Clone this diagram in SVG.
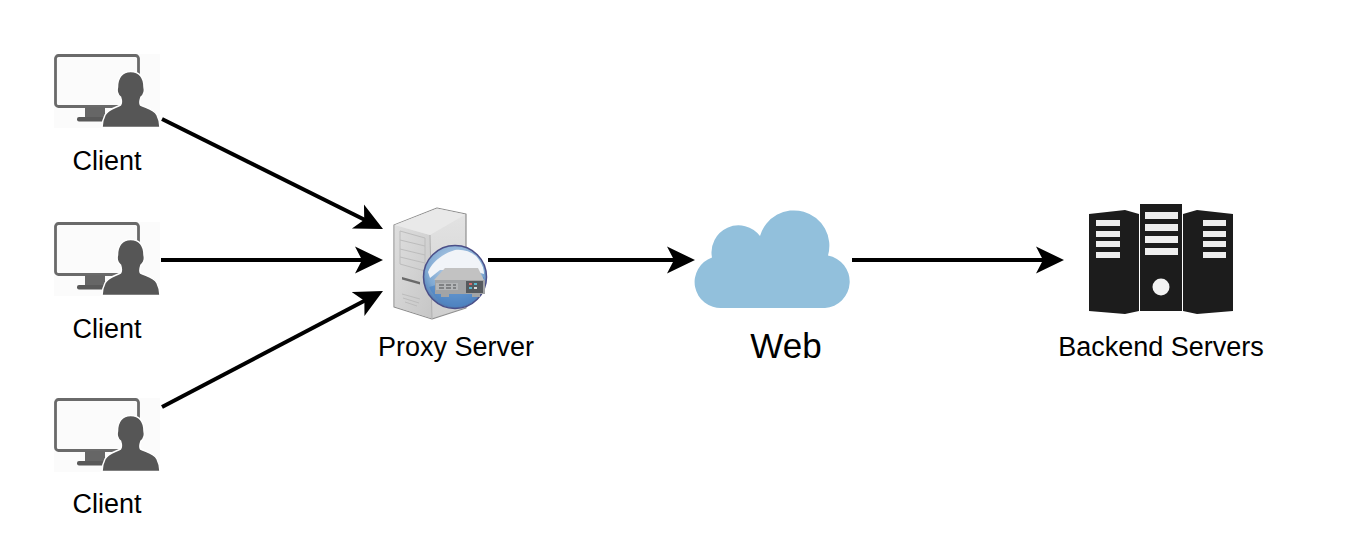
<svg xmlns="http://www.w3.org/2000/svg" width="1352" height="550" viewBox="0 0 1352 550">
<style>
text{font-family:"Liberation Sans",Arial,sans-serif;font-size:27px;fill:#000;text-anchor:middle}
.wire{fill:none;stroke:#000;stroke-width:4;marker-end:url(#head)}
.rack{fill:#1c1c1c;stroke:none}
.slot{fill:#eeeeee}
.pl{fill:none;stroke:#bcbcbc;stroke-width:1}
</style>
<defs>
<marker id="head" markerUnits="userSpaceOnUse" markerWidth="30" markerHeight="30" refX="13" refY="15" orient="auto" viewBox="0 0 30 30">
<path d="M0 1.500L28 15L0 28.500L7 15Z" fill="#000"/>
</marker>
<linearGradient id="front" x1="0" y1="0" x2="1" y2="1"><stop offset="0" stop-color="#dedede"/><stop offset="1" stop-color="#c6c6c6"/></linearGradient>
<linearGradient id="side" x1="0" y1="0" x2="0" y2="1"><stop offset="0" stop-color="#e4e4e4"/><stop offset="1" stop-color="#cfcfcf"/></linearGradient>
<radialGradient id="globe" cx="0.5" cy="0.35" r="0.7"><stop offset="0" stop-color="#c4d8ec"/><stop offset="0.65" stop-color="#7ea8d2"/><stop offset="1" stop-color="#3a68a6"/></radialGradient>
<g id="client-icon">
<rect x="54" y="54" width="106" height="74" fill="#fbfbfb"/>
<rect x="55.500" y="55.500" width="83" height="51" rx="3" fill="#fbfbfb" stroke="#6a6a6a" stroke-width="2.800"/>
<rect x="85" y="107" width="20" height="11" fill="#666"/>
<rect x="77" y="117" width="28" height="4.500" rx="2" fill="#595959"/>
<path d="M130.700 71.500C122 71.500 117.500 78 117.500 87C116.500 91 118 95 120.500 97C121.500 100 122 103 120.500 105C115 108 108 109 105 115C103 119 102 124 102 127.500L160 127.500C160 124 159 119 157 115C154 109 146 108 140.500 105C139 103 140 100 141 97C143.500 95 145 91 144 87C144 78 139.500 71.500 130.700 71.500Z" fill="#565656" stroke="#fff" stroke-width="1.500"/>
</g>
</defs>
<rect width="1352" height="550" fill="#fff"/>
<g id="connectors">
<path class="wire" d="M162 119L369.600 222.300"/>
<path class="wire" d="M161 260L368 260"/>
<path class="wire" d="M162 407L369.700 298"/>
<path class="wire" d="M488 260L680 260"/>
<path class="wire" d="M852 260L1049 260"/>
</g>
<g id="client-1"><use href="#client-icon"/><text x="107" y="170">Client</text></g>
<g id="client-2"><use href="#client-icon" y="168"/><text x="107" y="338">Client</text></g>
<g id="client-3"><use href="#client-icon" y="344"/><text x="107" y="513">Client</text></g>
<g id="proxy-server">
<path d="M394 225L437 208L466 214L466 308L432 319L394 307Z" fill="url(#side)" stroke="#8f8f8f" stroke-width="1.200" stroke-linejoin="round"/>
<path d="M394.600 225L430 235L432 318.400L394.600 306.600Z" fill="url(#front)"/>
<path d="M394.600 225L437 208.600L465.400 214.400L430 235Z" fill="#e9e9e9"/>
<path d="M430 235L432 319" stroke="#b0b0b0" stroke-width="1" fill="none"/>
<path class="pl" d="M400 231L425 238L425 271L400 264ZM400 240L425 246M400 249L425 255M400 257L425 263"/>
<path d="M402 277L420 282L420 284.500L402 279.500Z" fill="#6a6a6a"/>
<path class="pl" d="M402 294L420 299M403 298L419 303M405 302L417 306"/>
<circle cx="455" cy="277" r="31.500" fill="url(#globe)" stroke="#4b4f88" stroke-width="1.500"/>
<path d="M428 272C432 262 442 254 455 250C462 249 470 251 476 256C482 263 484 268 484 274L470 270L440 270L430 278Z" fill="#f1f4f8"/>
<path d="M436 285L472 285L484 277L484 287C480 297 470 306 456 307C444 307 434 298 429 287Z" fill="#4d84c4" opacity="0.700"/>
<path d="M445 268L478 268L484 280L434 280Z" fill="#c2c2c2"/>
<rect x="435" y="280" width="50" height="14" fill="#a2a4a6"/>
<rect x="436" y="283" width="22" height="7" fill="#b4b6b8"/>
<path d="M439 285h5M446 285h5M453 285h3M439 288h5M446 288h5M453 288h3" stroke="#6e7072" stroke-width="1.500"/>
<rect x="466" y="281" width="17" height="12" fill="#565a5e"/>
<rect x="469" y="283" width="3" height="2" fill="#d96a6a"/><rect x="474" y="283" width="3" height="2" fill="#58b8d0"/><rect x="469" y="287" width="3" height="2" fill="#58b8d0"/><rect x="474" y="287" width="3" height="2" fill="#d9d9d9"/>
<path d="M441 294h8v3h-8zM472 294h8v3h-8z" fill="#a2a4a6"/>
<text x="456" y="356">Proxy Server</text>
</g>
<g id="web">
<path d="M722 308A26 26 0 0 1 712 257.500A27 27 0 0 1 760 236A35 35 0 0 1 828 255.500A26.500 26.500 0 0 1 825 308Z" fill="#92c0dc"/>
<text x="786" y="358" style="font-size:35px">Web</text>
</g>
<g id="backend-servers">
<path class="rack" d="M1089 214L1125 210L1139 214L1139 311L1125 314L1089 311Z"/>
<rect class="rack" x="1140" y="204" width="42" height="107"/>
<path class="rack" d="M1233 214L1197 210L1183 214L1183 311L1197 314L1233 311Z"/>
<path class="slot" d="M1096 220h24v6h-24zM1096 231h24v6h-24zM1096 241h24v6h-24zM1096 252h24v6h-24zM1145 212h33v7h-33zM1145 224h33v7h-33zM1145 236h33v7h-33zM1145 248h33v7h-33zM1203 220h23v6h-23zM1203 231h23v6h-23zM1203 241h23v6h-23zM1203 252h23v6h-23z"/>
<circle cx="1161" cy="287" r="8.500" fill="#f2f2f2"/>
<text x="1161" y="356">Backend Servers</text>
</g>
</svg>
